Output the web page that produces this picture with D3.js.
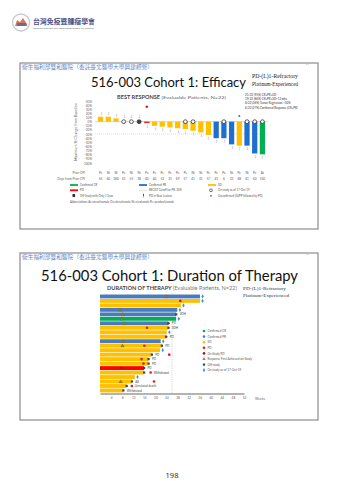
<!DOCTYPE html>
<html><head><meta charset="utf-8">
<script src="https://cdn.jsdelivr.net/npm/d3@7"></script>
<style>html,body{margin:0;padding:0;background:#fff;}svg{display:block;}</style>
</head><body><svg id="c" width="340" height="481"></svg>
<script>
// ---------- DATA ----------
// Chart 1: best response waterfall
const patients = d3.range(1, 23).map(i => "P" + i);
const bestChange = [12, 12, 8, 0, 0, 0, -3, -10, -12, -14, -16, -18, -22, -26, -32, -40, -40, -55, -58, -58, -77, -79];
const bestResp = ["SD","SD","SD","PD","PD","PD","PD","SD","SD","SD","SD","SD","SD","SD","SD","PR","PR","PR","SD","PR","PR","CR"];
const onStudyGear = [0,0,0,1,1,0,0,0,0,0,0,1,1,0,0,0,1,0,0,1,1,1];
const offOneScan = [0,0,0,0,0,1,0,0,0,0,0,0,0,0,0,0,0,0,0,0,0,0];
const newLesion = [0,0,0,0,0,0,1,0,0,0,0,0,0,0,0,0,0,0,0,0,0,0];
const unconfirmed = [0,0,0,0,0,0,0,0,0,0,0,0,0,0,0,0,0,0,1,0,0,0];
const priorCpi = ["Pe","Ni","Ni","Pe","Ni","Ni","Pe","Pe","Pe","Pe","Pe","Pe","Ni","Ni","Pe","Pe","Pe","Ni","Pe","Ni","Pe","At"];
const daysFromCpi = ["55","60","180","61","55","38","40","40","53","31","69","57","41","31","57","41","6","33","48","61","63","150"];
const yTicks1 = [50,40,30,20,10,0,-10,-20,-30,-40,-50,-60,-70,-80,-90,-100];
const summaryLines = ["21/22 (95%) CR+PR+SD","19/22 (86%) CR+PR+SD>12 wks","8/22 (36%) Tumor Regression >30%","6/22 (27%) Confirmed Response (CR+PR)"];

// Chart 2: duration of therapy (weeks)
const durRows = d3.range(1, 23).map(i => "R" + i);
const durWeeks = [36.1, 36.1, 29.2, 27.9, 27.5, 27.5, 24.7, 24.7, 24.1, 23.9, 21.9, 22.3, 21.7, 18.7, 17.5, 17.5, 15.9, 15.9, 12.6, 11.5, 9.6, 8.4];
const durResp = ["PR","SD","SD","PR","PR","CR","PR","SD","SD","SD","PR","SD","SD","SD","SD","SD","PD","SD","SD","SD","SD","SD"];
const respFirstWeek = [24, null, null, 7.2, 8.2, 7.8, 8.7, null, null, null, 8.4, 8.1, null, null, null, null, null, null, null, 7.5, null, null];
const pdWeek = [null, 29, null, null, null, null, null, 17, null, null, null, 16, null, 25, 15, 15.7, null, 18.3, null, 19.5, 11.5, null];
const onStudyPdWeek = [null, null, null, null, null, null, 24.7, null, null, 23.9, null, null, null, null, null, null, 7.8, null, null, null, null, null];
const offStudyLabel = [null, null, null, null, "SDH", null, "PD", "SDH", null, "PD", null, "PD", null, "PD", "PD", "PD", "PD", "Withdrawal", null, "AE", "Unrelated death", "Withdrawal"];
const onStudy2 = [1,1,1,1,0,1,0,0,1,0,1,0,1,0,0,0,0,0,1,0,0,0];
const weekTicks = [4,8,12,16,20,24,28,32,36,40,44,48,52];
const legend2 = ["Confirmed CR","Confirmed PR","SD","PD","On Study PD","Response First Achieved on Study","Off study","On study as of 17-Oct-19"];

// ---------- DRAW ----------
const svg = d3.select("#c");
const col1 = {CR:"#00b050", PR:"#1f6fd1", SD:"#ffc000", PD:"#ff0000"};
const col2 = {CR:"#00b050", PR:"#4a7cbd", SD:"#ffc000", PD:"#ff0000"};
const F = "Lato, 'Open Sans', sans-serif";

function txt(g, x, y, s, size, opt = {}) {
  const t = g.append("text").attr("x", x).attr("y", y).text(s)
    .attr("font-size", size).attr("font-family", opt.family || F)
    .attr("fill", opt.fill || "#333").attr("font-weight", opt.weight || "normal")
    .attr("text-anchor", opt.anchor || "start");
  if (opt.len) t.attr("textLength", opt.len).attr("lengthAdjust", "spacingAndGlyphs");
  return t;
}

// Logo
const logo = svg.append("g");
logo.append("circle").attr("cx", 21).attr("cy", 22.5).attr("r", 8.5).attr("fill", "#fff").attr("stroke", "#c9cbd6").attr("stroke-width", 1.4);
logo.append("path").attr("d", "M15,26 L17,20 L20,22 L23,18 L27,24 L27,26 Z").attr("fill", "#d87a5a");
logo.append("rect").attr("x", 17).attr("y", 23).attr("width", 9).attr("height", 3).attr("fill", "#5b6fa8");
txt(logo, 33, 24, "台灣免疫暨腫瘤學會", 7, {fill: "#4a5088", weight: "bold", family: "'Noto Sans CJK TC', sans-serif", len: 62});
txt(logo, 33, 28.5, "Taiwan Society for Immunotherapy of Cancer", 2.6, {fill: "#666", len: 61});

// Frames
[[20, 63, 298, 166], [20, 253, 298, 167]].forEach(([x, y, w, h]) => {
  svg.append("rect").attr("x", x).attr("y", y).attr("width", w).attr("height", h)
    .attr("fill", "#fff").attr("stroke", "#8c8c8c").attr("stroke-width", 1.2);
});
[[68.5], [258.5]].forEach(([y]) => {
  txt(svg, 22, y, "衛生福利部雙和醫院（委託臺北醫學大學興建經營）", 5.3, {fill: "#5a86c8", family: "'Noto Sans CJK TC', sans-serif", len: 131});
  txt(svg, 306, y - 1.5, "**", 3.5, {fill: "#888"});
});

// ===== Slide 1 =====
const s1 = svg.append("g");
txt(s1, 91, 87, "516-003 Cohort 1: Efficacy", 13.5, {fill: "#111", len: 155});
txt(s1, 252, 78, "PD-(L)1-Refractory", 5.2, {fill: "#222", family: "'Liberation Serif', serif", len: 46});
txt(s1, 252, 85.5, "Platinum-Experienced", 5.2, {fill: "#222", family: "'Liberation Serif', serif", len: 46});
const t1 = s1.append("text").attr("x", 117).attr("y", 99).attr("font-size", 4.6).attr("font-family", F).attr("textLength", 109).attr("lengthAdjust", "spacingAndGlyphs");
t1.append("tspan").text("BEST RESPONSE ").attr("font-weight", "bold").attr("fill", "#444");
t1.append("tspan").text("(Evaluable Patients, N=22)").attr("fill", "#666");
summaryLines.forEach((s, i) => txt(s1, 245, 96 + i * 4.2, s, 2.9, {fill: "#333"}));

const x1 = d3.scaleBand().domain(patients).range([95.5, 267.5]).padding(0.32);
const y1 = d3.scaleLinear().domain([-100, 50]).range([163, 101]);

// y axis
const ax1 = s1.append("g").attr("transform", "translate(92,0)").call(d3.axisLeft(y1).tickValues(yTicks1).tickSize(0).tickPadding(0).tickFormat(d => d + "%"));
ax1.select(".domain").remove();
ax1.selectAll("text").attr("font-size", 3.2).attr("fill", "#666").attr("font-family", F);
s1.append("text").attr("transform", `translate(77,${y1(-25)}) rotate(-90)`).attr("text-anchor", "middle")
  .attr("font-size", 3.8).attr("fill", "#666").attr("font-family", F).text("Maximum % Change from Baseline");

// reference lines
s1.append("line").attr("x1", 95).attr("x2", 268).attr("y1", y1(0)).attr("y2", y1(0)).attr("stroke", "#aaa").attr("stroke-width", 0.5);
s1.append("line").attr("x1", 95).attr("x2", 268).attr("y1", y1(-30)).attr("y2", y1(-30)).attr("stroke", "#bbb").attr("stroke-width", 0.5).attr("stroke-dasharray", "1,1");

// bars
s1.selectAll(".b1").data(patients).join("rect")
  .attr("x", d => x1(d)).attr("width", x1.bandwidth())
  .attr("y", (d, i) => y1(Math.max(0, bestChange[i])))
  .attr("height", (d, i) => Math.abs(y1(bestChange[i]) - y1(0)))
  .attr("fill", (d, i) => col1[bestResp[i]]);
// rotated labels
s1.selectAll(".bl").data(patients).join("text")
  .attr("transform", (d, i) => {
    const cx = x1(d) + x1.bandwidth() / 2 + 1;
    const v = bestChange[i];
    const yy = v > 0 ? y1(v) - 1.5 : (v === 0 ? y1(0) - 3.5 : y1(v) + 1.5);
    return `translate(${cx},${yy}) rotate(-90)`;
  })
  .attr("text-anchor", (d, i) => bestChange[i] >= 0 ? "start" : "end")
  .attr("font-size", 2.6).attr("fill", "#777").attr("font-family", F)
  .text((d, i) => bestResp[i]);
// gear (on study) markers at zero line
s1.selectAll(".g1").data(patients.filter((d, i) => onStudyGear[i])).join("circle")
  .attr("cx", d => x1(d) + x1.bandwidth() / 2).attr("cy", y1(0)).attr("r", 1.9)
  .attr("fill", "#fff").attr("stroke", "#333").attr("stroke-width", 0.8);
s1.selectAll(".o1").data(patients.filter((d, i) => offOneScan[i])).join("circle")
  .attr("cx", d => x1(d) + x1.bandwidth() / 2).attr("cy", y1(0)).attr("r", 2)
  .attr("fill", "#444").attr("stroke", "#222").attr("stroke-width", 0.6);
s1.selectAll(".n1").data(patients.filter((d, i) => newLesion[i])).join("circle")
  .attr("cx", d => x1(d) + x1.bandwidth() / 2).attr("cy", y1(36)).attr("r", 1.3).attr("fill", "#e02020");
s1.selectAll(".u1").data(patients.filter((d, i) => unconfirmed[i])).join("circle")
  .attr("cx", d => x1(d) + x1.bandwidth() / 2).attr("cy", y1(14)).attr("r", 1).attr("fill", "#2a6fd6");

// rows below
txt(s1, 85, 173.5, "Prior CPI", 3.2, {fill: "#666", anchor: "end"});
txt(s1, 85, 180, "Days from Prior CPI", 3.2, {fill: "#666", anchor: "end"});
patients.forEach((p, i) => {
  const cx = x1(p) + x1.bandwidth() / 2;
  txt(s1, cx, 173.5, priorCpi[i], 3.1, {fill: "#555", anchor: "middle"});
  txt(s1, cx, 180, daysFromCpi[i], 3.1, {fill: "#555", anchor: "middle"});
});

// legend 1
const lg = s1.append("g");
function lineKey(x, y, c, dash) {
  lg.append("line").attr("x1", x).attr("x2", x + 8).attr("y1", y).attr("y2", y).attr("stroke", c).attr("stroke-width", dash ? 0.6 : 1.8).attr("stroke-dasharray", dash ? "1,0.8" : null);
}
lineKey(70, 185, col1.CR); txt(lg, 80, 186, "Confirmed CR", 2.8, {fill: "#555"});
lineKey(139, 185, col1.PR); txt(lg, 149, 186, "Confirmed PR", 2.8, {fill: "#555"});
lineKey(208, 185, col1.SD); txt(lg, 218, 186, "SD", 2.8, {fill: "#555"});
lineKey(70, 190.3, col1.PD); txt(lg, 80, 191.3, "PD", 2.8, {fill: "#555"});
lineKey(139, 190.3, "#aab", true); txt(lg, 149, 191.3, "RECIST Cutoff for PR, 30%", 2.8, {fill: "#555"});
lg.append("circle").attr("cx", 211).attr("cy", 190.3).attr("r", 1.4).attr("fill", "#fff").attr("stroke", "#333").attr("stroke-width", 0.7);
txt(lg, 218, 191.3, "On study as of 17-Oct-19", 2.8, {fill: "#555"});
lg.append("rect").attr("x", 72.5).attr("y", 194).attr("width", 2.6).attr("height", 3).attr("fill", "#333");
txt(lg, 80, 196.8, "Off Study with Only 1 Scan", 2.8, {fill: "#555"});
lg.append("rect").attr("x", 143).attr("y", 193.8).attr("width", 1).attr("height", 2.2).attr("fill", "#e02020");
lg.append("circle").attr("cx", 143.5).attr("cy", 196.8).attr("r", 0.5).attr("fill", "#e02020");
txt(lg, 149, 196.8, "PD in New Lesions", 2.8, {fill: "#555"});
lg.append("circle").attr("cx", 211).attr("cy", 195.8).attr("r", 0.9).attr("fill", "#2a6fd6");
txt(lg, 218, 196.8, "Unconfirmed (SUPP followed by PD)", 2.8, {fill: "#555"});
txt(lg, 70, 203, "Abbreviations: At=atezolizumab; Du=durvalumab; Ni=nivolumab; Pe=pembrolizumab.", 2.8, {fill: "#555"});

// ===== Slide 2 =====
const s2 = svg.append("g");
txt(s2, 41, 281, "516-003 Cohort 1: Duration of Therapy", 15.5, {fill: "#111", len: 257});
const t2 = s2.append("text").attr("x", 107).attr("y", 290).attr("font-size", 4.8).attr("font-family", F).attr("textLength", 130).attr("lengthAdjust", "spacingAndGlyphs");
t2.append("tspan").text("DURATION OF THERAPY ").attr("font-weight", "bold").attr("fill", "#444");
t2.append("tspan").text("(Evaluable Patients, N=22)").attr("fill", "#777");
txt(s2, 243, 290, "PD-(L)1-Refractory", 4.8, {fill: "#333", family: "'Liberation Serif', serif", len: 43});
txt(s2, 243, 296.5, "Platinum-Experienced", 4.8, {fill: "#333", family: "'Liberation Serif', serif", len: 46});

const x2 = d3.scaleLinear().domain([0, 52]).range([100, 244]);
const y2 = d3.scaleBand().domain(durRows).range([294.3, 392.6]).paddingInner(0.14).paddingOuter(0.05);
const bh = y2.bandwidth();

// 26-week dashed line
s2.append("line").attr("x1", x2(26)).attr("x2", x2(26)).attr("y1", 293).attr("y2", 393).attr("stroke", "#aaa").attr("stroke-width", 0.5).attr("stroke-dasharray", "1.2,1");

s2.selectAll(".b2").data(durRows).join("rect")
  .attr("x", x2(0)).attr("y", d => y2(d)).attr("height", bh)
  .attr("width", (d, i) => x2(durWeeks[i]) - x2(0))
  .attr("fill", (d, i) => col2[durResp[i]]);

// axis
const ax2 = s2.append("g").attr("transform", "translate(0,393.5)").call(d3.axisBottom(x2).tickValues(weekTicks).tickSize(0).tickPadding(3));
ax2.select(".domain").attr("stroke", "#9a9a9a").attr("stroke-width", 1.4);
ax2.selectAll("text").attr("font-size", 3.2).attr("fill", "#666").attr("font-family", F);
txt(s2, 255, 399.5, "Weeks", 3.3, {fill: "#666"});

// markers
durRows.forEach((r, i) => {
  const cy = y2(r) + bh / 2;
  const endX = x2(durWeeks[i]);
  if (respFirstWeek[i] != null) {
    const cx = x2(respFirstWeek[i]);
    s2.append("path").attr("d", d3.symbol(d3.symbolTriangle, 5)()).attr("transform", `translate(${cx},${cy + 0.3})`).attr("fill", "#9a8a2a").attr("stroke", "#5a4a10").attr("stroke-width", 0.3);
  }
  if (pdWeek[i] != null) {
    s2.append("circle").attr("cx", x2(pdWeek[i])).attr("cy", cy).attr("r", 1.3).attr("fill", "#e31a1c");
  }
  let labelX = endX + 3.5;
  if (offStudyLabel[i] != null) {
    if (onStudyPdWeek[i] != null) {
      s2.append("circle").attr("cx", x2(onStudyPdWeek[i])).attr("cy", cy).attr("r", 1.3).attr("fill", "#9b1c1c");
    }
    if (onStudyPdWeek[i] == null || Math.abs(onStudyPdWeek[i] - durWeeks[i]) > 1) {
      s2.append("rect").attr("x", endX - 1).attr("y", cy - 1.1).attr("width", 2.2).attr("height", 2.2).attr("fill", "#444");
    }
    if (pdWeek[i] != null && pdWeek[i] > durWeeks[i] && pdWeek[i] - durWeeks[i] < 3) labelX = x2(pdWeek[i]) + 3;
    txt(s2, labelX, cy + 1.1, offStudyLabel[i], 3, {fill: "#444"});
  }
  if (onStudy2[i]) {
    s2.append("path").attr("d", d3.symbol(d3.symbolDiamond, 5)()).attr("transform", `translate(${endX + 2.6},${cy})`).attr("fill", "#3b8ee0");
  }
});

// legend 2
legend2.forEach((s, i) => {
  const cy = 331 + i * 5.6;
  const g = s2.append("g");
  if (i === 5) g.append("path").attr("d", d3.symbol(d3.symbolTriangle, 5)()).attr("transform", `translate(204,${cy})`).attr("fill", "#9a8a2a");
  else if (i === 6) g.append("rect").attr("x", 202.9).attr("y", cy - 1.1).attr("width", 2.2).attr("height", 2.2).attr("fill", "#444");
  else if (i === 7) g.append("path").attr("d", d3.symbol(d3.symbolDiamond, 5)()).attr("transform", `translate(204,${cy})`).attr("fill", "#3b8ee0");
  else g.append("circle").attr("cx", 204).attr("cy", cy).attr("r", 1.3).attr("fill", ["#00b050", "#4a7cbd", "#ffc000", "#e31a1c", "#9b1c1c"][i]);
  txt(g, 207.5, cy + 1.1, s, 3, {fill: "#555"});
});

// page number
txt(svg, 172, 478, "198", 7.5, {fill: "#222", anchor: "middle", family: "'Open Sans', sans-serif"});
</script></body></html>
